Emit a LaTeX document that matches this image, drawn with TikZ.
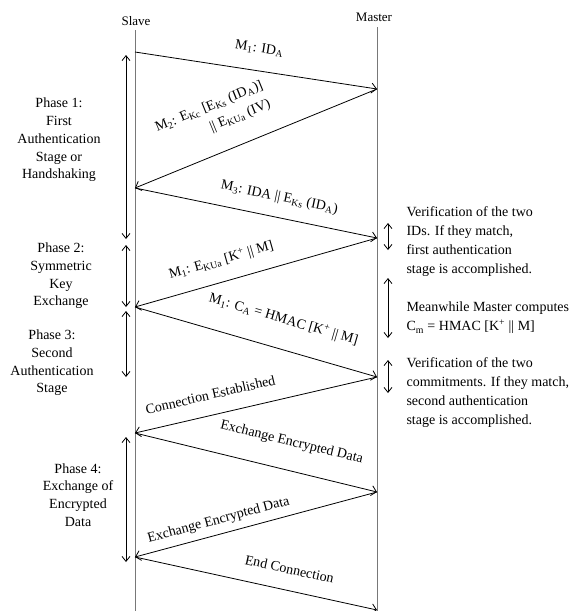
\documentclass[tikz,border=0pt]{standalone}
\usepackage{fontspec}
\setmainfont{Liberation Serif}
\usepackage{tikz}
\usetikzlibrary{arrows.meta,positioning}
\definecolor{lifegray}{RGB}{120,120,120}
\tikzstyle{lifeline} = [line width=0.9pt, color=lifegray]
\tikzstyle{msg} = [line width=0.8pt, -{Straight Barb[length=5pt,width=10pt]}]
\tikzstyle{phasearrow} = [line width=0.8pt, {Straight Barb[length=5pt,width=8pt]}-{Straight Barb[length=5pt,width=8pt]}]
\tikzstyle{msgtext} = [sloped, inner sep=1pt, font=\fontsize{14}{20}\selectfont]
\tikzstyle{phasetext} = [align=center, font=\fontsize{14}{17.7}\selectfont]
\tikzstyle{notetext} = [align=left, anchor=west, font=\fontsize{14}{19}\selectfont]
\tikzstyle{headtext} = [font=\fontsize{13}{15}\selectfont]

\begin{document}
\begin{tikzpicture}[x=1pt, y=-1pt]
    \useasboundingbox (0,0) rectangle (572,611);

    % Nodes
    \node[headtext] (slave) at (136,21) {Slave};
    \node[headtext] (master) at (374,17) {Master};
    \coordinate (slavetop) at (135,30);
    \coordinate (slavebot) at (135,611);
    \coordinate (mastertop) at (377,27);
    \coordinate (masterbot) at (377,611);

    \coordinate (sA) at (135,52);
    \coordinate (sB) at (135,188);
    \coordinate (sC) at (135,307);
    \coordinate (sD) at (135,433);
    \coordinate (sE) at (135,557);
    \coordinate (mA) at (377,89);
    \coordinate (mB) at (377,238);
    \coordinate (mC) at (377,377);
    \coordinate (mD) at (377,492);
    \coordinate (mE) at (377,610);

    \node[phasetext] (phase1) at (59,140) {Phase 1:\\First\\Authentication\\Stage or\\Handshaking};
    \node[phasetext] (phase2) at (61,276) {Phase 2:\\Symmetric\\Key\\Exchange};
    \node[phasetext] (phase3) at (52,363) {Phase 3:\\Second\\Authentication\\Stage};
    \node[phasetext] (phase4) at (78,495) {Phase 4:\\Exchange of\\Encrypted\\Data};

    \node[notetext] (note1) at (403,242) {Verification of the two\\IDs. If they match,\\first authentication\\stage is accomplished.};
    \node[notetext] (note2) at (403,318) {Meanwhile Master computes\\C\textsubscript{m} = HMAC [K\textsuperscript{+} || M]};
    \node[notetext] (note3) at (403,393) {Verification of the two\\commitments. If they match,\\second authentication\\stage is accomplished.};

    % Lifelines
    \draw[lifeline] (slavetop) -- (slavebot);
    \draw[lifeline] (mastertop) -- (masterbot);

    % Arrows
    \draw[msg] (sA) -- (mA) node[msgtext, pos=0.5, above=15pt] {M\textsubscript{1}: ID\textsubscript{A}};
    \draw[msg] (mA) -- (sB) node[msgtext, align=right, pos=0.62, above=19pt] {M\textsubscript{2}: E\textsubscript{Kc} [E\textsubscript{Ks} (ID\textsubscript{A})]\\|| E\textsubscript{KUa} (IV)};
    \draw[msg] (sB) -- (mB) node[msgtext, pos=0.58, above=12pt] {M\textsubscript{3}: IDA || E\textsubscript{Ks} (ID\textsubscript{A})};
    \draw[msg] (mB) -- (sC) node[msgtext, pos=0.62, above=13pt] {M\textsubscript{1}: E\textsubscript{KUa} [K\textsuperscript{+} || M]};
    \draw[msg] (sC) -- (mC) node[msgtext, pos=0.58, above=21pt] {M\textsubscript{1}: C\textsubscript{A} = HMAC [K\textsuperscript{+} || M]};
    \draw[msg] (mC) -- (sD) node[msgtext, pos=0.67, above=14pt] {Connection Established};
    \draw[msg] (sD) -- (mD) node[msgtext, pos=0.62, above=20pt] {Exchange Encrypted Data};
    \draw[msg] (mD) -- (sE) node[msgtext, pos=0.64, above=6pt] {Exchange Encrypted Data};
    \draw[msg] (sE) -- (mE) node[msgtext, pos=0.62, above=15pt] {End Connection};

    % Phases
    \coordinate (p1top) at (126,55);
    \coordinate (p1bot) at (126,239);
    \coordinate (p2top) at (126,245);
    \coordinate (p2bot) at (126,307);
    \coordinate (p3top) at (126,311);
    \coordinate (p3bot) at (126,377);
    \coordinate (p4top) at (126,437);
    \coordinate (p4bot) at (126,562);
    \draw[phasearrow] (p1top) -- (p1bot);
    \draw[phasearrow] (p2top) -- (p2bot);
    \draw[phasearrow] (p3top) -- (p3bot);
    \draw[phasearrow] (p4top) -- (p4bot);

    \coordinate (n1top) at (388,223);
    \coordinate (n1bot) at (388,250);
    \coordinate (n2top) at (388,278);
    \coordinate (n2bot) at (388,338);
    \coordinate (n3top) at (388,360);
    \coordinate (n3bot) at (388,393);
    \draw[phasearrow] (n1top) -- (n1bot);
    \draw[phasearrow] (n2top) -- (n2bot);
    \draw[phasearrow] (n3top) -- (n3bot);
\end{tikzpicture}
\end{document}
